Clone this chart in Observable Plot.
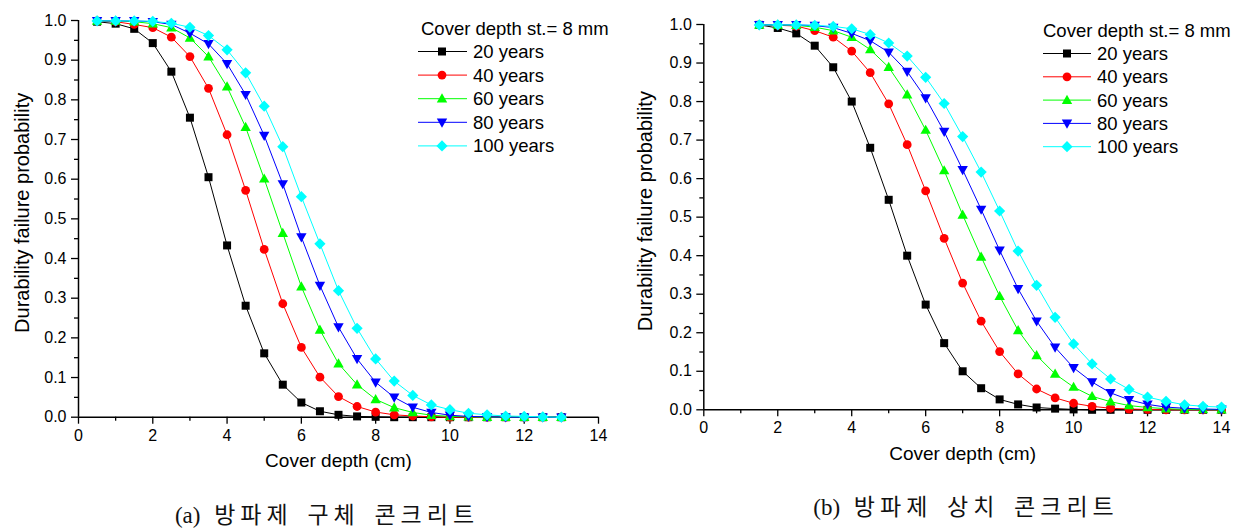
<!DOCTYPE html>
<html><head><meta charset="utf-8">
<script src="https://cdn.jsdelivr.net/npm/d3@7"></script>
<script src="https://cdn.jsdelivr.net/npm/@observablehq/plot@0.6"></script>
<style>
body{margin:0;background:#fff;}
#wrap{position:relative;width:1248px;height:528px;overflow:hidden;background:#fff;font-family:"Liberation Sans",Arial,sans-serif;}
.panel{position:absolute;top:0;width:624px;height:480px;}
.overlay{position:absolute;left:0;top:0;pointer-events:none;}
.cap{position:absolute;font-family:"Liberation Serif","Noto Sans CJK KR",serif;font-size:23px;letter-spacing:5px;word-spacing:4px;white-space:nowrap;transform:translate(-50%,-50%);color:#111;}
.cap .lat{letter-spacing:0;word-spacing:8px;}
</style></head><body><div id="wrap"></div>
<script>
// ---- data ----
const seriesNames = ["20 years", "40 years", "60 years", "80 years", "100 years"];
const seriesColors = ["#000000", "#ff0000", "#00ff00", "#0000ff", "#00ffff"];
const seriesSymbols = ["square", "circle", "triangleUp", "triangleDown", "diamond"];
const legendTitle = "Cover depth st.= 8 mm";
const xTitle = "Cover depth (cm)";
const yTitle = "Durability failure probability";
const xTicks = [0, 2, 4, 6, 8, 10, 12, 14];
const xMinorTicks = [1, 3, 5, 7, 9, 11, 13];
const yTicks = [0, 0.1, 0.2, 0.3, 0.4, 0.5, 0.6, 0.7, 0.8, 0.9, 1.0];
const yMinorTicks = [0.05, 0.15, 0.25, 0.35, 0.45, 0.55, 0.65, 0.75, 0.85, 0.95];
const captionALabel = "(a)";
const captionAText = "방파제 구체 콘크리트";
const captionBLabel = "(b)";
const captionBText = "방파제 상치 콘크리트";

// panel (a)
const depthA = [0.5, 1, 1.5, 2, 2.5, 3, 3.5, 4, 4.5, 5, 5.5, 6, 6.5, 7, 7.5, 8, 8.5, 9, 9.5, 10, 10.5, 11, 11.5, 12, 12.5, 13];
const a20  = [0.997, 0.992, 0.979, 0.943, 0.871, 0.755, 0.605, 0.433, 0.281, 0.161, 0.082, 0.037, 0.015, 0.006, 0.002, 0.001, 0, 0, 0, 0, 0, 0, 0, 0, 0, 0];
const a40  = [0.999, 0.997, 0.990, 0.982, 0.958, 0.909, 0.829, 0.712, 0.572, 0.423, 0.286, 0.176, 0.101, 0.052, 0.027, 0.013, 0.006, 0.003, 0.001, 0, 0, 0, 0, 0, 0, 0];
const a60  = [0.999, 0.999, 0.997, 0.992, 0.982, 0.956, 0.909, 0.833, 0.731, 0.601, 0.464, 0.329, 0.220, 0.135, 0.082, 0.045, 0.024, 0.012, 0.005, 0.002, 0.001, 0, 0, 0, 0, 0];
const a80  = [0.999, 0.999, 0.999, 0.997, 0.990, 0.968, 0.941, 0.891, 0.813, 0.710, 0.588, 0.454, 0.332, 0.227, 0.147, 0.088, 0.050, 0.025, 0.012, 0.005, 0.002, 0.001, 0, 0, 0, 0];
const a100 = [0.999, 0.999, 0.999, 0.998, 0.993, 0.983, 0.962, 0.926, 0.868, 0.784, 0.682, 0.556, 0.437, 0.319, 0.224, 0.147, 0.091, 0.055, 0.031, 0.019, 0.010, 0.006, 0.003, 0.002, 0.001, 0];

// panel (b)
const depthB = [1.5, 2, 2.5, 3, 3.5, 4, 4.5, 5, 5.5, 6, 6.5, 7, 7.5, 8, 8.5, 9, 9.5, 10, 10.5, 11, 11.5, 12, 12.5, 13, 13.5, 14];
const b20  = [0.999, 0.991, 0.977, 0.945, 0.889, 0.800, 0.680, 0.545, 0.400, 0.273, 0.173, 0.100, 0.056, 0.027, 0.014, 0.006, 0.003, 0.001, 0, 0, 0, 0, 0, 0, 0, 0];
const b40  = [0.999, 0.998, 0.996, 0.984, 0.967, 0.931, 0.875, 0.794, 0.688, 0.568, 0.445, 0.329, 0.230, 0.151, 0.093, 0.054, 0.031, 0.017, 0.009, 0.004, 0.002, 0.001, 0, 0, 0, 0];
const b60  = [0.999, 0.999, 0.998, 0.993, 0.984, 0.967, 0.935, 0.889, 0.818, 0.726, 0.621, 0.506, 0.397, 0.295, 0.206, 0.141, 0.093, 0.059, 0.035, 0.021, 0.011, 0.006, 0.003, 0.001, 0.001, 0];
const b80  = [0.999, 0.999, 0.999, 0.997, 0.992, 0.977, 0.958, 0.928, 0.878, 0.809, 0.722, 0.623, 0.520, 0.414, 0.314, 0.230, 0.162, 0.109, 0.072, 0.044, 0.026, 0.014, 0.007, 0.004, 0.002, 0.001];
const b100 = [0.999, 0.999, 0.999, 0.998, 0.995, 0.989, 0.974, 0.952, 0.918, 0.863, 0.795, 0.709, 0.617, 0.516, 0.412, 0.323, 0.240, 0.171, 0.119, 0.080, 0.053, 0.033, 0.022, 0.013, 0.009, 0.007];

// ---- symbols ----
const SYM = {
  square: {draw(c, s) { const r = Math.sqrt(s / Math.PI); c.rect(-r, -r, 2 * r, 2 * r); }},
  circle: {draw(c, s) { const r = Math.sqrt(s / Math.PI) * 1.1; c.moveTo(r, 0); c.arc(0, 0, r, 0, 2 * Math.PI); }},
  triangleUp: {draw(c, s) { const r = Math.sqrt(s / Math.PI); c.moveTo(0, -1.35 * r); c.lineTo(1.3 * r, 0.95 * r); c.lineTo(-1.3 * r, 0.95 * r); c.closePath(); }},
  triangleDown: {draw(c, s) { const r = Math.sqrt(s / Math.PI); c.moveTo(0, 1.35 * r); c.lineTo(1.3 * r, -0.95 * r); c.lineTo(-1.3 * r, -0.95 * r); c.closePath(); }},
  diamond: {draw(c, s) { const r = Math.sqrt(s / Math.PI) * 1.4; c.moveTo(0, -r); c.lineTo(r, 0); c.lineTo(0, r); c.lineTo(-r, 0); c.closePath(); }}
};

const wrap = document.getElementById("wrap");

function makePanel(depth, seriesVals, m, left) {
  const marks = [];
  seriesVals.forEach((vals, i) => {
    const data = depth.map((d, j) => ({d, p: vals[j]}));
    marks.push(Plot.line(data, {x: "d", y: "p", stroke: seriesColors[i], strokeWidth: 1}));
    marks.push(Plot.dot(data, {x: "d", y: "p", fill: seriesColors[i], symbol: SYM[seriesSymbols[i]], r: 4}));
  });
  const plot = Plot.plot({
    width: 624, height: 480,
    marginLeft: m.left, marginRight: m.right, marginTop: m.top, marginBottom: m.bottom,
    style: {fontFamily: "'Liberation Sans', Arial, sans-serif", fontSize: "16px", color: "#000", background: "transparent", overflow: "visible"},
    x: {domain: [0, 14]},
    y: {domain: [0, 1]},
    marks: [
      Plot.axisY({ticks: yTicks, tickSize: 7, tickPadding: 5, tickFormat: d3.format(".1f"), label: null, strokeWidth: 1.3, fontSize: 16}),
      Plot.axisY({ticks: yMinorTicks, tickSize: 4, tickFormat: () => "", label: null, strokeWidth: 1.3}),
      Plot.axisX({ticks: xTicks, tickSize: 7, tickPadding: 5, tickFormat: d3.format("d"), label: null, strokeWidth: 1.3, fontSize: 16}),
      Plot.axisX({ticks: xMinorTicks, tickSize: 4, tickFormat: () => "", label: null, strokeWidth: 1.3}),
      Plot.ruleX([0], {stroke: "#000", strokeWidth: 1.5}),
      Plot.ruleY([0], {stroke: "#000", strokeWidth: 1.5}),
      ...marks,
      Plot.text([yTitle], {frameAnchor: "left", textAnchor: "middle", lineAnchor: "middle", dx: -m.yTitleDx, dy: -6, rotate: -90, fontSize: 20, fill: "#000"}),
      Plot.text([xTitle], {frameAnchor: "bottom", textAnchor: "middle", dy: m.xTitleDy, fontSize: 19, fill: "#000"})
    ]
  });
  const div = document.createElement("div");
  div.className = "panel";
  div.style.left = left + "px";
  div.appendChild(plot);
  wrap.appendChild(div);
}

makePanel(depthA, [a20, a40, a60, a80, a100], {left: 78, right: 26, top: 20, bottom: 63.3, yTitleDx: 56, xTitleDy: 50}, 0);
makePanel(depthB, [b20, b40, b60, b80, b100], {left: 79.3, right: 27, top: 24, bottom: 70.7, yTitleDx: 58, xTitleDy: 50.5}, 624);

// ---- legends ----
const ov = d3.create("svg").attr("class", "overlay").attr("width", 1248).attr("height", 528)
  .style("font-family", "'Liberation Sans', Arial, sans-serif");
function legend(o) {
  ov.append("text").attr("x", o.titleX).attr("y", o.titleY).attr("dominant-baseline", "central")
    .attr("font-size", 18.5).attr("fill", "#000").text(legendTitle);
  seriesNames.forEach((n, i) => {
    const y = o.row0 + i * o.step;
    ov.append("line").attr("x1", o.l0).attr("x2", o.l1).attr("y1", y).attr("y2", y)
      .attr("stroke", seriesColors[i]).attr("stroke-width", 1);
    ov.append("path").attr("transform", `translate(${o.mx},${y})`)
      .attr("d", d3.symbol(SYM[seriesSymbols[i]], Math.PI * 16)()).attr("fill", seriesColors[i]);
    ov.append("text").attr("x", o.tx).attr("y", y).attr("dominant-baseline", "central")
      .attr("font-size", 18.5).attr("fill", "#000").text(n);
  });
}
legend({titleX: 421, titleY: 28.5, row0: 51.5, step: 23.6, l0: 418, l1: 467, mx: 442, tx: 473});
legend({titleX: 1043, titleY: 30.5, row0: 53.5, step: 23.3, l0: 1043, l1: 1091, mx: 1067, tx: 1097});
wrap.appendChild(ov.node());

// ---- captions ----
function caption(label, text, x, y) {
  const d = document.createElement("div");
  d.className = "cap";
  d.style.left = x + "px";
  d.style.top = y + "px";
  const s = document.createElement("span");
  s.className = "lat";
  s.textContent = label + " ";
  d.appendChild(s);
  d.appendChild(document.createTextNode(text));
  wrap.appendChild(d);
}
caption(captionALabel, captionAText, 327, 513);
caption(captionBLabel, captionBText, 966, 505);
</script>
</body></html>
